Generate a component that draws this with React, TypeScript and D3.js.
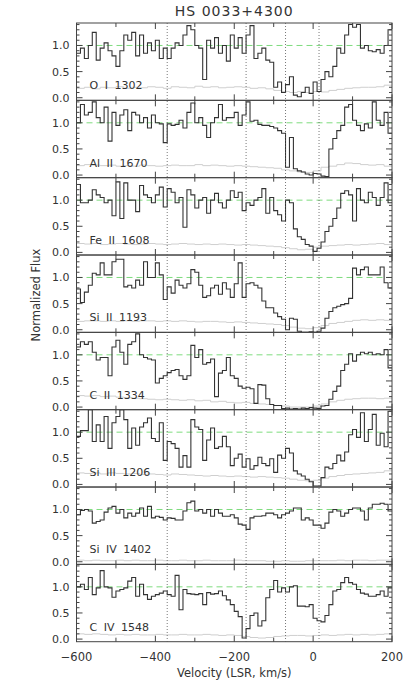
import React, { useEffect, useRef } from 'react';
import * as d3 from 'd3';

// velocity grid: flux bins are 10 km/s wide, error bins 20 km/s wide, both starting at -600
const velStart = -600;
const velEnd = 200;
const fluxBin = 10;
const errBin = 20;

const panelLabels = ['O I 1302', 'Al II 1670', 'Fe II 1608', 'Si II 1193', 'C II 1334', 'Si III 1206', 'Si IV 1402', 'C IV 1548'];
const markerVels = [-370, -170, -70, 15];
const yTickLabels = ['0.0', '0.5', '1.0'];
const xTickLabels = ['−600', '−400', '−200', '0', '200'];

const oI1302 = [0.85,0.95,0.75,1.0,1.25,0.72,0.95,1.05,0.9,0.8,0.6,0.9,1.2,1.1,1.25,0.8,1.2,0.85,1.05,0.9,1.1,0.75,0.95,0.75,0.95,1.05,1.0,1.2,1.38,1.3,1.0,0.95,0.35,1.1,0.95,1.15,0.85,1.0,0.7,1.2,0.95,1.15,0.85,1.2,1.38,0.75,0.85,0.95,0.72,0.68,0.2,0.3,0.1,0.25,0.4,0.05,0.02,0.1,0.2,0.08,0.3,0.12,0.35,0.5,0.4,0.6,0.95,0.85,1.2,1.4,1.35,1.4,0.95,1.0,0.9,0.88,0.92,0.85,1.0,1.3];
const alII1670 = [1.0,1.35,1.15,1.2,1.4,1.1,1.0,1.3,0.65,1.2,0.95,1.15,1.25,0.85,1.2,1.15,1.0,1.1,0.9,1.15,1.0,0.98,0.62,0.98,0.95,0.97,1.05,0.9,1.2,1.38,1.0,1.1,0.95,0.72,1.0,1.1,1.35,1.05,1.1,1.1,1.2,0.95,1.15,1.4,1.03,1.05,0.97,0.95,0.95,0.93,0.9,0.85,0.8,0.15,0.72,0.12,0.08,0.06,0.02,0.0,0.03,0.02,-0.02,-0.03,0.5,0.7,0.85,0.95,1.3,1.35,1.05,0.95,0.85,0.98,0.9,1.4,1.05,0.95,1.2,0.8];
const feII1608 = [1.3,0.95,0.95,1.0,1.2,1.1,1.05,0.95,1.0,0.7,1.35,0.65,1.33,1.0,1.0,0.78,1.28,1.1,1.05,0.95,1.1,1.25,0.87,1.22,1.15,0.95,1.05,0.48,1.2,1.1,0.85,1.0,1.05,0.75,1.0,1.13,0.95,0.85,1.0,1.18,1.05,1.15,0.8,0.95,0.9,1.0,1.05,1.22,0.75,1.05,0.8,0.72,0.6,1.0,0.95,0.45,0.3,0.25,0.15,0.12,0.02,0.08,0.2,0.4,0.5,0.65,0.85,1.13,1.18,1.1,0.6,1.22,1.0,0.95,1.15,1.05,0.9,1.05,1.33,0.95];
const siII1193 = [0.78,0.52,0.72,0.85,1.08,1.05,1.28,1.05,1.05,1.3,1.35,1.35,0.82,0.85,0.8,0.95,0.85,1.3,1.0,1.0,1.28,1.05,0.58,0.82,0.7,0.95,0.85,0.8,0.88,1.15,1.1,0.85,0.62,0.65,0.8,0.85,0.68,0.9,0.78,0.62,0.88,1.28,0.62,0.88,0.9,0.85,0.8,0.55,0.42,0.42,0.32,0.25,0.2,0.0,0.22,0.2,-0.03,-0.05,-0.05,-0.04,-0.05,-0.03,0.03,0.22,0.35,0.42,0.45,0.48,0.5,0.6,1.18,1.05,1.15,1.2,1.05,1.05,1.05,1.2,0.9,0.8];
const cII1334 = [1.15,1.25,1.2,1.25,1.05,0.9,0.95,0.95,0.6,1.15,1.28,1.05,0.82,1.2,1.25,1.4,1.0,0.95,0.92,0.9,0.46,0.55,0.6,0.66,0.7,0.72,0.6,0.53,0.6,1.18,0.95,1.1,0.82,0.85,0.92,0.2,0.65,0.7,0.95,0.6,0.55,0.4,0.36,0.38,0.35,0.07,0.43,0.42,0.16,0.05,0.03,0.03,-0.03,-0.02,-0.04,-0.03,-0.04,-0.02,-0.03,-0.01,-0.02,-0.03,0.02,0.03,0.15,0.3,0.4,0.7,0.82,1.02,0.88,1.0,1.05,1.02,1.05,1.0,1.02,1.0,1.1,0.75];
const siIII1206 = [0.92,1.03,1.03,1.43,0.82,1.14,0.82,1.3,0.69,1.18,1.3,1.43,1.24,0.69,1.08,0.75,1.1,1.18,1.27,0.88,0.82,1.18,0.46,0.82,0.78,0.69,0.33,0.55,0.33,1.24,1.1,1.05,0.46,0.85,1.08,0.69,0.72,0.92,0.72,0.36,0.5,0.58,0.33,0.49,0.29,0.36,0.52,0.4,0.36,0.49,0.23,0.56,0.5,0.69,0.6,0.26,0.2,0.16,0.1,0.05,-0.03,-0.03,0.13,0.33,0.3,0.4,0.56,0.45,0.62,0.95,1.05,0.9,1.37,0.82,1.05,1.34,0.75,0.98,0.72,1.4];
const siIV1402 = [0.9,0.98,1.0,0.97,0.74,0.77,0.8,0.95,1.03,1.06,0.93,1.0,0.84,0.93,0.87,0.93,1.03,0.87,1.06,0.84,0.87,0.85,0.8,0.84,0.83,0.8,0.8,0.97,1.13,1.16,0.97,1.0,0.93,1.0,0.87,1.0,0.93,0.87,0.87,0.9,0.84,0.72,0.7,0.62,0.84,0.87,0.87,0.88,0.93,0.93,0.9,0.84,0.9,0.93,0.97,1.03,1.03,0.8,0.84,0.8,0.7,0.7,0.64,0.74,0.95,1.0,0.97,0.87,0.93,1.0,1.03,1.03,0.97,0.8,1.03,1.1,1.1,1.12,1.1,0.97];
const cIV1548 = [1.0,1.05,0.95,1.18,0.85,0.98,1.31,1.0,0.98,0.8,0.92,0.95,0.98,1.11,1.18,0.82,1.05,0.85,0.76,0.82,0.85,0.88,0.92,0.85,0.82,1.22,0.56,0.95,0.87,0.86,0.85,0.87,0.66,0.89,0.86,0.87,0.92,0.83,0.75,0.66,0.53,0.43,0.02,0.2,0.45,0.5,0.25,0.35,0.79,0.95,1.12,0.9,0.98,0.9,1.0,1.02,0.63,0.63,0.62,0.66,0.4,0.35,0.33,0.45,0.66,0.92,0.95,1.08,1.18,1.08,1.05,0.95,0.88,0.86,0.82,0.82,0.85,0.92,0.82,0.98];

const oI1302Err = [0.18,0.2,0.17,0.2,0.19,0.21,0.18,0.2,0.19,0.21,0.2,0.18,0.21,0.2,0.19,0.22,0.2,0.21,0.19,0.2,0.21,0.2,0.18,0.19,0.17,0.14,0.12,0.1,0.12,0.1,0.12,0.11,0.14,0.16,0.18,0.19,0.2,0.2,0.21,0.24];
const alII1670Err = [0.18,0.2,0.19,0.18,0.19,0.17,0.18,0.17,0.19,0.18,0.17,0.18,0.19,0.18,0.18,0.2,0.18,0.19,0.18,0.17,0.18,0.17,0.16,0.15,0.14,0.13,0.1,0.08,0.06,0.05,0.08,0.15,0.17,0.2,0.23,0.22,0.2,0.19,0.2,0.17];
const feII1608Err = [0.17,0.16,0.17,0.15,0.16,0.17,0.16,0.15,0.16,0.17,0.16,0.15,0.16,0.17,0.16,0.15,0.16,0.15,0.16,0.15,0.14,0.15,0.14,0.13,0.12,0.11,0.09,0.07,0.05,0.06,0.1,0.12,0.13,0.14,0.15,0.14,0.15,0.16,0.17,0.15];
const siII1193Err = [0.16,0.17,0.17,0.16,0.17,0.16,0.17,0.16,0.17,0.17,0.16,0.17,0.16,0.17,0.16,0.15,0.16,0.16,0.15,0.14,0.15,0.14,0.13,0.12,0.11,0.1,0.08,0.05,0.03,0.02,0.04,0.08,0.12,0.14,0.16,0.18,0.19,0.18,0.19,0.18];
const cII1334Err = [0.22,0.21,0.22,0.2,0.21,0.19,0.18,0.17,0.16,0.15,0.14,0.15,0.14,0.13,0.14,0.12,0.13,0.1,0.11,0.09,0.08,0.09,0.07,0.06,0.05,0.03,0.02,0.0,0.0,0.0,0.02,0.06,0.1,0.13,0.15,0.16,0.17,0.17,0.16,0.17];
const siIII1206Err = [0.22,0.21,0.22,0.2,0.22,0.21,0.2,0.21,0.19,0.2,0.19,0.18,0.2,0.19,0.18,0.17,0.16,0.17,0.16,0.15,0.16,0.15,0.14,0.15,0.14,0.13,0.12,0.1,0.08,0.07,0.08,0.12,0.15,0.17,0.19,0.2,0.21,0.22,0.23,0.26];
const siIV1402Err = [0.03,0.02,0.03,0.02,0.02,0.03,0.02,0.03,0.02,0.02,0.03,0.02,0.02,0.03,0.02,0.02,0.03,0.02,0.02,0.02,0.03,0.02,0.02,0.02,0.01,0.01,0.02,0.01,0.01,0.02,0.02,0.02,0.02,0.03,0.02,0.03,0.03,0.02,0.03,0.03];
const cIV1548Err = [0.1,0.09,0.1,0.09,0.08,0.09,0.08,0.09,0.08,0.08,0.09,0.08,0.08,0.09,0.08,0.08,0.09,0.08,0.07,0.08,0.07,0.05,0.03,0.02,0.03,0.05,0.06,0.07,0.07,0.06,0.07,0.08,0.07,0.08,0.09,0.08,0.09,0.08,0.09,0.1];

const fluxSeries = [oI1302, alII1670, feII1608, siII1193, cII1334, siIII1206, siIV1402, cIV1548];
const errSeries = [oI1302Err, alII1670Err, feII1608Err, siII1193Err, cII1334Err, siIII1206Err, siIV1402Err, cIV1548Err];

const W = 415;
const H = 691;
const left = 76.5;
const right = 392;
const top = 23;
const bottom = 641.7;
const font = 'DejaVu Sans, sans-serif';
const ink = '#333';

function stepPoints(vals: number[], bin: number): [number, number][] {
  const pts: [number, number][] = vals.map((v, i) => [velStart + i * bin, v]);
  pts.push([velEnd, vals[vals.length - 1]]);
  return pts;
}

export default function App() {
  const ref = useRef<SVGSVGElement>(null);

  useEffect(() => {
    const svg = d3.select(ref.current);
    svg.selectAll('*').remove();

    const nP = panelLabels.length;
    const panelH = (bottom - top) / nP;
    const x = d3.scaleLinear().domain([velStart, velEnd]).range([left, right]);

    const defs = svg.append('defs');

    panelLabels.forEach((label, p) => {
      const y0 = top + p * panelH;
      const y = d3.scaleLinear().domain([-0.05, 1.43]).range([y0 + panelH, y0]);
      const g = svg.append('g');

      defs.append('clipPath').attr('id', `clip${p}`)
        .append('rect').attr('x', left).attr('y', y0).attr('width', right - left).attr('height', panelH);

      const line = d3.line<[number, number]>()
        .x(d => x(d[0]))
        .y(d => y(d[1]))
        .curve(d3.curveStepAfter);

      // continuum
      g.append('line')
        .attr('x1', left).attr('x2', right)
        .attr('y1', y(1)).attr('y2', y(1))
        .attr('stroke', '#7fdc7f').attr('stroke-width', 1)
        .attr('stroke-dasharray', '6,4');

      // error spectrum
      g.append('path')
        .attr('d', line(stepPoints(errSeries[p], errBin)))
        .attr('fill', 'none').attr('stroke', '#cfcfcf').attr('stroke-width', 1)
        .attr('clip-path', `url(#clip${p})`);

      // flux
      g.append('path')
        .attr('d', line(stepPoints(fluxSeries[p], fluxBin)))
        .attr('fill', 'none').attr('stroke', '#333').attr('stroke-width', 1.1)
        .attr('clip-path', `url(#clip${p})`);

      // frame
      g.append('rect')
        .attr('x', left).attr('y', y0).attr('width', right - left).attr('height', panelH)
        .attr('fill', 'none').attr('stroke', '#444').attr('stroke-width', 1);

      // y ticks (minor every 0.1, major every 0.5)
      d3.range(0, 15).forEach(k => {
        const v = k / 10;
        const len = k % 5 === 0 ? 6 : 3;
        g.append('line').attr('x1', left).attr('x2', left + len).attr('y1', y(v)).attr('y2', y(v))
          .attr('stroke', '#444');
        g.append('line').attr('x1', right).attr('x2', right - len).attr('y1', y(v)).attr('y2', y(v))
          .attr('stroke', '#444');
      });

      // x ticks on top and bottom of each panel
      x.ticks(8).forEach(v => {
        const len = v % 200 === 0 ? 6 : 4;
        g.append('line').attr('x1', x(v)).attr('x2', x(v)).attr('y1', y0 + panelH).attr('y2', y0 + panelH - len)
          .attr('stroke', '#444');
        g.append('line').attr('x1', x(v)).attr('x2', x(v)).attr('y1', y0).attr('y2', y0 + len)
          .attr('stroke', '#444');
      });

      // y tick labels
      yTickLabels.forEach(t => {
        g.append('text')
          .attr('x', left - 7).attr('y', y(+t) + 4)
          .attr('text-anchor', 'end')
          .attr('font-family', font).attr('font-size', 11).attr('fill', ink)
          .text(t);
      });

      g.append('text')
        .attr('x', left + 13).attr('y', y0 + panelH - 11)
        .attr('font-family', font).attr('font-size', 11).attr('fill', ink)
        .attr('word-spacing', 3)
        .text(label);
    });

    // velocity markers
    markerVels.forEach(v => {
      svg.append('line')
        .attr('x1', x(v)).attr('x2', x(v)).attr('y1', top).attr('y2', bottom)
        .attr('stroke', '#555').attr('stroke-width', 0.8)
        .attr('stroke-dasharray', '1,2');
    });

    // x tick labels
    xTickLabels.forEach((t, i) => {
      svg.append('text')
        .attr('x', x(velStart + i * 200)).attr('y', 661)
        .attr('text-anchor', 'middle')
        .attr('font-family', font).attr('font-size', 11.5).attr('fill', ink)
        .text(t);
    });

    svg.append('text')
      .attr('x', (left + right) / 2).attr('y', 677)
      .attr('text-anchor', 'middle')
      .attr('font-family', font).attr('font-size', 11.5).attr('fill', ink)
      .text('Velocity (LSR, km/s)');

    svg.append('text')
      .attr('transform', 'translate(40,295) rotate(-90)')
      .attr('text-anchor', 'middle')
      .attr('font-family', font).attr('font-size', 11.5).attr('fill', ink)
      .text('Normalized Flux');

    svg.append('text')
      .attr('x', (left + right) / 2).attr('y', 16)
      .attr('text-anchor', 'middle')
      .attr('font-family', font).attr('font-size', 14).attr('fill', ink)
      .attr('letter-spacing', 1)
      .text('HS 0033+4300');
  }, []);

  return (
    <svg ref={ref} width={W} height={H} style={{ position: 'absolute', left: 0, top: 0, background: '#fff' }} />
  );
}
